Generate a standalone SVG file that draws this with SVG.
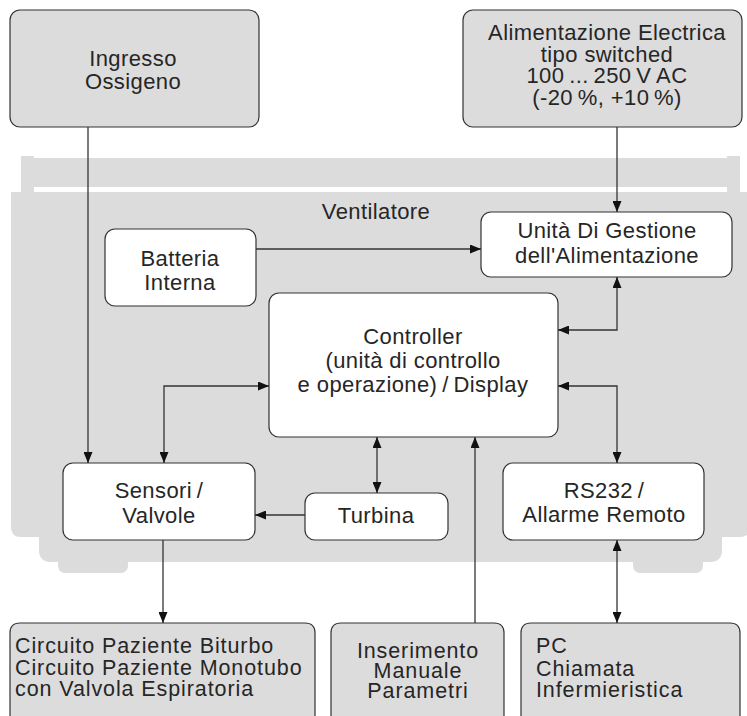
<svg xmlns="http://www.w3.org/2000/svg" width="747" height="716" viewBox="0 0 747 716">
<defs>
<marker id="arr" viewBox="0 0 11 9" refX="11" refY="4.5" markerWidth="11" markerHeight="9" markerUnits="userSpaceOnUse" orient="auto-start-reverse">
<path d="M0,0 L11,4.5 L0,9 Z" fill="#111"/>
</marker>
</defs>
<style>
.body{fill:#dcdcdc;stroke:none}
.box{fill:#fff;stroke:#333;stroke-width:1.2}
.ext{fill:#dcdcdc;stroke:#333;stroke-width:1.2}
text{font-family:"Liberation Sans",Arial,sans-serif;font-size:22px;fill:#262626;letter-spacing:0.4px}
.c{text-anchor:middle}
.s{font-size:21.5px;letter-spacing:0.9px}
.con{fill:none;stroke:#333;stroke-width:1.3}
</style>
<rect width="747" height="716" fill="#fff"/>
<g id="ventilatore">
<rect class="body" x="21" y="156" width="13" height="36"/>
<rect class="body" x="34" y="158" width="693" height="29"/>
<rect class="body" x="727" y="156" width="13" height="36"/>
<path class="body" d="M11,192 H750 V527 Q750,537 740,537 H722 V550 Q722,562 710,562 H51 Q39,562 39,550 V537 H21 Q11,537 11,527 Z"/>
<rect class="body" x="58" y="548" width="70" height="25" rx="7"/>
<rect class="body" x="633" y="548" width="70" height="25" rx="7"/>
<text class="c" x="376" y="219">Ventilatore</text>
</g>
<g id="ingresso">
<rect class="ext" x="10" y="10" width="249" height="117" rx="10"/>
<text class="c" x="133" y="66">Ingresso</text>
<text class="c" x="133" y="89">Ossigeno</text>
</g>
<g id="alimentazione">
<rect class="ext" x="463" y="10" width="279" height="117" rx="10"/>
<text class="c" x="607" y="40">Alimentazione Electrica</text>
<text class="c" x="607" y="62">tipo switched</text>
<text class="c" x="607" y="83">100&#8201;...&#8201;250&#8201;V&#8201;AC</text>
<text class="c" x="607" y="105">(-20&#8201;%, +10&#8201;%)</text>
</g>
<g id="unita">
<rect class="box" x="481" y="212" width="251" height="65" rx="10"/>
<text class="c" x="607" y="238">Unità Di Gestione</text>
<text class="c" x="607" y="263">dell'Alimentazione</text>
</g>
<g id="batteria">
<rect class="box" x="105" y="229" width="151" height="77" rx="10"/>
<text class="c" x="180" y="266">Batteria</text>
<text class="c" x="180" y="290">Interna</text>
</g>
<g id="controller">
<rect class="box" x="269" y="293" width="289" height="144" rx="10"/>
<text class="c" x="413" y="344">Controller</text>
<text class="c" x="413" y="368">(unità di controllo</text>
<text class="c" x="413" y="392">e operazione)&#8201;/&#8201;Display</text>
</g>
<g id="sensori">
<rect class="box" x="63" y="463" width="192" height="77" rx="10"/>
<text class="c" x="159" y="498">Sensori&#8201;/</text>
<text class="c" x="159" y="523">Valvole</text>
</g>
<g id="turbina">
<rect class="box" x="305" y="493" width="143" height="47" rx="10"/>
<text class="c" x="376" y="523">Turbina</text>
</g>
<g id="rs232">
<rect class="box" x="503" y="463" width="201" height="77" rx="10"/>
<text class="c" x="604" y="498">RS232&#8201;/</text>
<text class="c" x="604" y="522">Allarme Remoto</text>
</g>
<g id="circuito">
<path class="ext" d="M10,730 V633 Q10,623 20,623 H305 Q315,623 315,633 V730"/>
<text class="s" x="15" y="653">Circuito Paziente Biturbo</text>
<text class="s" x="15" y="675">Circuito Paziente Monotubo</text>
<text class="s" x="15" y="696">con Valvola Espiratoria</text>
</g>
<g id="inserimento">
<path class="ext" d="M331,730 V633 Q331,623 341,623 H494 Q504,623 504,633 V730"/>
<text class="s c" x="418" y="658">Inserimento</text>
<text class="s c" x="418" y="678">Manuale</text>
<text class="s c" x="418" y="698">Parametri</text>
</g>
<g id="pc">
<path class="ext" d="M521,730 V633 Q521,623 531,623 H730 Q740,623 740,633 V730"/>
<text class="s" x="536" y="653">PC</text>
<text class="s" x="536" y="676">Chiamata</text>
<text class="s" x="536" y="697">Infermieristica</text>
</g>
<g id="connectors">
<path class="con" d="M88,127 V463" marker-end="url(#arr)"/>
<path class="con" d="M617,127 V212" marker-end="url(#arr)"/>
<path class="con" d="M256,249 H481" marker-end="url(#arr)"/>
<path class="con" d="M617,277 V330 H558" marker-start="url(#arr)" marker-end="url(#arr)"/>
<path class="con" d="M269,386 H164 V463" marker-start="url(#arr)" marker-end="url(#arr)"/>
<path class="con" d="M377,437 V493" marker-start="url(#arr)" marker-end="url(#arr)"/>
<path class="con" d="M558,386 H617 V463" marker-start="url(#arr)" marker-end="url(#arr)"/>
<path class="con" d="M305,515 H255" marker-end="url(#arr)"/>
<path class="con" d="M475,623 V437" marker-end="url(#arr)"/>
<path class="con" d="M163,540 V623" marker-end="url(#arr)"/>
<path class="con" d="M617,540 V623" marker-start="url(#arr)" marker-end="url(#arr)"/>
</g>
</svg>
